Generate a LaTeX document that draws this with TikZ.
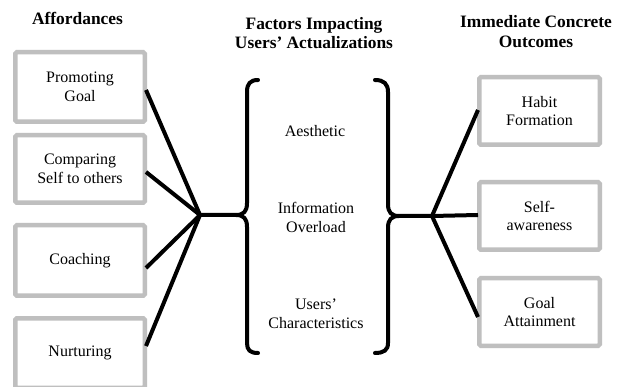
\documentclass[tikz,border=0pt]{standalone}
\usepackage{fontspec}
\setmainfont{Liberation Serif}
\usetikzlibrary{calc}
\begin{document}
\begin{tikzpicture}[x=1pt,y=-1pt,
  box/.style={draw=black!25, line width=4.5pt, rounded corners=1.5pt, align=center,
    font=\fontsize{16}{18.5}\selectfont},
  lbox/.style={box, minimum width=129.5pt},
  rbox/.style={box, minimum width=120.5pt},
  head/.style={align=center, font=\fontsize{17.4}{19.5}\selectfont\bfseries},
  mid/.style={align=center, font=\fontsize{16}{19}\selectfont},
  conn/.style={line width=4pt, black}]
\clip (0,0) rectangle (621,387);
\fill[white] (0,0) rectangle (621,387);
% headers
\node[head] (h1) at (77.5,18) {Affordances};
\node[head] (h2) at (314,33) {Factors Impacting\\Users’ Actualizations};
\node[head] (h3) at (536,31.5) {Immediate Concrete\\Outcomes};
% middle texts
\node[mid] (m1) at (315,131) {Aesthetic};
\node[mid] (m2) at (316,217.5) {Information\\Overload};
\node[mid] (m3) at (316,313.5) {Users’\\Characteristics};
% hubs
\coordinate (hl) at (200,215);
\coordinate (hr) at (432,216);
% left boxes
\node[lbox, minimum height=69.5pt] (a1) at (80,87) {Promoting\\Goal};
\node[lbox, minimum height=67.5pt] (a2) at (80,169) {Comparing\\Self to others};
\node[lbox, minimum height=70.5pt] (a3) at (80,260.5) {Coaching};
\node[lbox, minimum height=69.5pt] (a4) at (80,353) {Nurturing};
% right boxes
\node[rbox, minimum height=67.5pt] (o1) at (539.5,111) {Habit\\Formation};
\node[rbox, minimum height=67.5pt] (o2) at (539.5,216) {Self-\\awareness};
\node[rbox, minimum height=67.5pt] (o3) at (539.5,312) {Goal\\Attainment};
% connectors
\draw[conn] ($(a1.east)+(-1,3)$) -- (hl);
\draw[conn] ($(a2.east)+(-1,3)$) -- (hl);
\draw[conn] ($(a3.east)+(-1,7.5)$) -- (hl);
\draw[conn] ($(a4.east)+(-1,-7)$) -- (hl);
\draw[conn] ($(o1.west)+(1,-1)$) -- (hr);
\draw[conn] ($(o2.west)+(1,-1)$) -- (hr);
\draw[conn] ($(o3.west)+(1,5)$) -- (hr);
% braces
\draw[conn, line cap=round] (258,80) .. controls (250,80) and (247,84) .. (247,92)
  -- (247,203) .. controls (247,211) and (244,215) .. (236,215) -- (hl);
\draw[conn, line cap=round] (236,215) .. controls (244,215) and (247,219) .. (247,227)
  -- (247,343) .. controls (247,350) and (250,353) .. (258,353);
\draw[conn, line cap=round] (375,80) .. controls (384,80) and (388,84) .. (388,92)
  -- (388,204) .. controls (388,212) and (391,216) .. (399,216) -- (hr);
\draw[conn, line cap=round] (399,216) .. controls (391,216) and (388,220) .. (388,228)
  -- (388,343) .. controls (388,350) and (384,353) .. (375,353);
\end{tikzpicture}
\end{document}
